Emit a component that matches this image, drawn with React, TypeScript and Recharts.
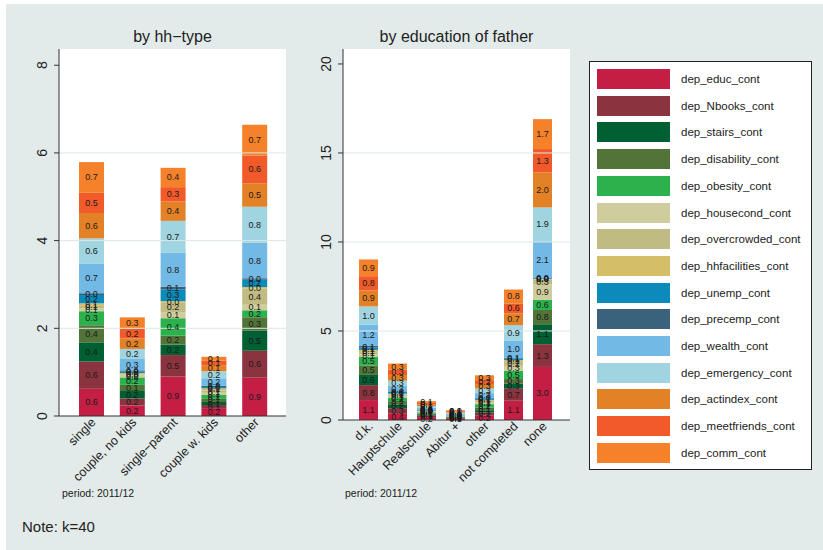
import React from 'react';
import { BarChart, Bar, XAxis, YAxis, ReferenceLine, LabelList } from 'recharts';

// ---- series (bottom to top) ----
const SERIES = [
  'dep_educ_cont', 'dep_Nbooks_cont', 'dep_stairs_cont', 'dep_disability_cont', 'dep_obesity_cont',
  'dep_housecond_cont', 'dep_overcrowded_cont', 'dep_hhfacilities_cont', 'dep_unemp_cont', 'dep_precemp_cont',
  'dep_wealth_cont', 'dep_emergency_cont', 'dep_actindex_cont', 'dep_meetfriends_cont', 'dep_comm_cont',
];
const COLORS = [
  '#c41e45', '#8b3440', '#005f33', '#537438', '#2bb24c',
  '#cfcd9e', '#bfbb82', '#d4bf68', '#0b8bbb', '#3b627d',
  '#72b9e5', '#a0d4e0', '#e38126', '#f25a29', '#f5822a',
];

// ---- panel 1: by hh-type ----
const HH_TYPES = ['single', 'couple, no kids', 'single\u2212parent', 'couple w. kids', 'other'];
const hhEduc = [0.62, 0.24, 0.9, 0.18, 0.87];
const hhNbooks = [0.62, 0.16, 0.49, 0.07, 0.62];
const hhStairs = [0.44, 0.17, 0.24, 0.07, 0.46];
const hhDisability = [0.39, 0.14, 0.2, 0.07, 0.3];
const hhObesity = [0.32, 0.17, 0.4, 0.09, 0.16];
const hhHousecond = [0.06, 0.04, 0.14, 0.05, 0.13];
const hhOvercrowded = [0.06, 0.03, 0.21, 0.05, 0.36];
const hhHhfacilities = [0.06, 0.03, 0.04, 0.05, 0.04];
const hhUnemp = [0.19, 0.04, 0.27, 0.03, 0.17];
const hhPrecemp = [0.04, 0.02, 0.06, 0.03, 0.03];
const hhWealth = [0.68, 0.26, 0.78, 0.17, 0.81];
const hhEmergency = [0.57, 0.23, 0.72, 0.16, 0.82];
const hhActindex = [0.58, 0.24, 0.44, 0.14, 0.54];
const hhMeetfriends = [0.46, 0.22, 0.33, 0.1, 0.63];
const hhComm = [0.7, 0.26, 0.44, 0.09, 0.7];
const HH_TICKS = [0, 2, 4, 6, 8];
const HH_GRID = [2, 4, 6];

// ---- panel 2: by education of father ----
const EDU_CATS = ['d.k.', 'Hauptschule', 'Realschule', 'Abitur +', 'other', 'not completed', 'none'];
const edEduc = [1.12, 0.38, 0.16, 0.07, 0.24, 1.08, 2.98];
const edNbooks = [0.84, 0.28, 0.1, 0.05, 0.18, 0.68, 1.28];
const edStairs = [0.57, 0.22, 0.06, 0.03, 0.13, 0.28, 1.12];
const edDisability = [0.54, 0.18, 0.05, 0.03, 0.14, 0.26, 0.8];
const edObesity = [0.47, 0.2, 0.06, 0.03, 0.2, 0.47, 0.58];
const edHousecond = [0.14, 0.1, 0.04, 0.02, 0.1, 0.27, 0.86];
const edOvercrowded = [0.13, 0.08, 0.03, 0.02, 0.08, 0.22, 0.27];
const edHhfacilities = [0.13, 0.04, 0.02, 0.01, 0.06, 0.1, 0.03];
const edUnemp = [0.14, 0.1, 0.04, 0.02, 0.09, 0.1, 0.04];
const edPrecemp = [0.08, 0.03, 0.02, 0.01, 0.04, 0.05, 0.02];
const edWealth = [1.2, 0.3, 0.1, 0.06, 0.25, 0.96, 2.06];
const edEmergency = [1.02, 0.3, 0.1, 0.06, 0.26, 0.86, 1.9];
const edActindex = [0.9, 0.32, 0.1, 0.05, 0.25, 0.66, 1.96];
const edMeetfriends = [0.8, 0.3, 0.08, 0.04, 0.22, 0.56, 1.32];
const edComm = [0.94, 0.34, 0.1, 0.05, 0.27, 0.78, 1.68];
const EDU_TICKS = [0, 5, 10, 15, 20];
const EDU_GRID = [5, 10, 15];

const HH_SERIES_VALUES = [hhEduc, hhNbooks, hhStairs, hhDisability, hhObesity, hhHousecond, hhOvercrowded,
  hhHhfacilities, hhUnemp, hhPrecemp, hhWealth, hhEmergency, hhActindex, hhMeetfriends, hhComm];
const ED_SERIES_VALUES = [edEduc, edNbooks, edStairs, edDisability, edObesity, edHousecond, edOvercrowded,
  edHhfacilities, edUnemp, edPrecemp, edWealth, edEmergency, edActindex, edMeetfriends, edComm];

const buildRows = (cats: string[], vals: number[][]) =>
  cats.map((c, i) => {
    const row: any = { cat: c };
    SERIES.forEach((s, k) => { row[s] = vals[k][i]; });
    return row;
  });

const hhData = buildRows(HH_TYPES, HH_SERIES_VALUES);
const edData = buildRows(EDU_CATS, ED_SERIES_VALUES);

const FONT = '"Liberation Sans", Arial, Helvetica, sans-serif';
const BG = '#e2ebe9';
const GRID = '#dde7e6';

const YTick = (props: any) => {
  const { x, y, payload } = props;
  return (
    <text transform={`translate(${x - 10.3},${y}) rotate(-90)`} textAnchor="middle" dy="0.35em"
      fontSize={14} fill="#222" fontFamily={FONT}>
      {payload.value}
    </text>
  );
};

const XTick = (props: any) => {
  const { x, y, payload } = props;
  const px = x + 2;
  const py = y - 3;
  return (
    <text x={px} y={py} transform={`rotate(-45 ${px} ${py})`} textAnchor="end" dy="0.35em"
      fontSize={12.5} fill="#222" fontFamily={FONT}>
      {payload.value}
    </text>
  );
};

const fmt = (v: any) => Number(v).toFixed(1);

const SegLabel = (p: any) => {
  const vb = p.viewBox && p.viewBox.width !== undefined ? p.viewBox : p;
  const cx = Number(vb.x) + Number(vb.width) / 2;
  const cy = Number(vb.y) + Number(vb.height) / 2;
  return (
    <text x={cx} y={cy} textAnchor="middle" dominantBaseline="central" fontSize={9}
      fill="#1a1a1a" fontFamily={FONT}>
      {fmt(p.value)}
    </text>
  );
};

const renderBars = (barSize: number) =>
  SERIES.map((s, k) => (
    <Bar key={s} dataKey={s} stackId="a" fill={COLORS[k]} barSize={barSize} isAnimationActive={false}>
      <LabelList dataKey={s} content={<SegLabel />} />
    </Bar>
  ));

export default function App() {
  return (
    <div style={{ position: 'absolute', left: 0, top: 0, width: 823, height: 550, background: '#fff', fontFamily: FONT, overflow: 'hidden' }}>
      <div style={{ position: 'absolute', left: 6, top: 4, width: 817, height: 546, background: BG }} />

      {/* plot region backgrounds */}
      <div style={{ position: 'absolute', left: 59, top: 49, width: 227, height: 367, background: '#fff' }} />
      <div style={{ position: 'absolute', left: 343, top: 49, width: 227, height: 371, background: '#fff' }} />

      {/* titles */}
      <div style={{ position: 'absolute', left: 59, width: 227, top: 28, textAlign: 'center', fontSize: 16, color: '#222' }}>by hh&minus;type</div>
      <div style={{ position: 'absolute', left: 343, width: 227, top: 28, textAlign: 'center', fontSize: 16, color: '#222' }}>by education of father</div>

      {/* left chart */}
      <div style={{ position: 'absolute', left: 0, top: 0 }}>
        <BarChart width={300} height={500} data={hhData} margin={{ top: 49, right: 14, bottom: 0, left: 0 }}>
          <XAxis dataKey="cat" type="category" height={84} padding={{ left: 12, right: 11 }}
            axisLine={{ stroke: '#333' }} tickLine={false} tickSize={5} tickMargin={2} interval={0} tick={<XTick />} />
          <YAxis type="number" domain={[0, 8.37]} ticks={HH_TICKS} width={59} allowDataOverflow
            axisLine={{ stroke: '#333' }} tickLine={{ stroke: '#333' }} tickSize={5} tickMargin={2} tick={<YTick />} />
          {HH_GRID.map((g) => (
            <ReferenceLine key={g} y={g} stroke={GRID} strokeWidth={1} ifOverflow="extendDomain" />
          ))}
          {renderBars(25)}
        </BarChart>
      </div>

      {/* right chart */}
      <div style={{ position: 'absolute', left: 284, top: 0 }}>
        <BarChart width={300} height={500} data={edData} margin={{ top: 49, right: 14, bottom: 0, left: 0 }}>
          <XAxis dataKey="cat" type="category" height={80} padding={{ left: 11, right: 13 }}
            axisLine={{ stroke: '#333' }} tickLine={false} tickSize={5} tickMargin={2} interval={0} tick={<XTick />} />
          <YAxis type="number" domain={[0, 20.84]} ticks={EDU_TICKS} width={59} allowDataOverflow
            axisLine={{ stroke: '#333' }} tickLine={{ stroke: '#333' }} tickSize={5} tickMargin={2} tick={<YTick />} />
          {EDU_GRID.map((g) => (
            <ReferenceLine key={g} y={g} stroke={GRID} strokeWidth={1} ifOverflow="extendDomain" />
          ))}
          {renderBars(19)}
        </BarChart>
      </div>

      {/* notes */}
      <div style={{ position: 'absolute', left: 62, top: 487, fontSize: 10.5, color: '#222' }}>period: 2011/12</div>
      <div style={{ position: 'absolute', left: 345, top: 487, fontSize: 10.5, color: '#222' }}>period: 2011/12</div>
      <div style={{ position: 'absolute', left: 22, top: 518, fontSize: 15, color: '#222' }}>Note: k=40</div>

      {/* legend */}
      <div style={{ position: 'absolute', left: 589, top: 61, width: 223, height: 409, background: '#fff', border: '1px solid #222', boxSizing: 'border-box' }}>
        {SERIES.map((s, k) => (
          <div key={s} style={{ position: 'absolute', left: 7, top: 7 + k * 26.7, height: 20, display: 'flex', alignItems: 'center' }}>
            <div style={{ width: 73, height: 20, background: COLORS[k] }} />
            <div style={{ marginLeft: 11, fontSize: 11.5, color: '#222', whiteSpace: 'nowrap' }}>{s}</div>
          </div>
        ))}
      </div>
    </div>
  );
}
